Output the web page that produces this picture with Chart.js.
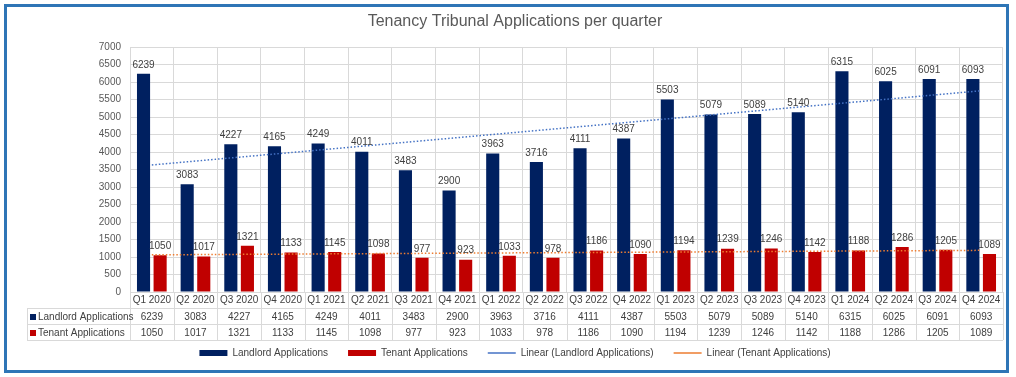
<!DOCTYPE html>
<html>
<head>
<meta charset="utf-8">
<script src="https://cdn.jsdelivr.net/npm/chart.js@4/dist/chart.umd.min.js"></script>
<style>
  html, body { margin: 0; padding: 0; background: #fff; }
  #wrap { width: 1016px; height: 377px; }
</style>
</head>
<body>
<div id="wrap"><canvas id="grafico" width="1016" height="377"></canvas></div>
<script>
const trimestres = [
    "Q1 2020", "Q2 2020", "Q3 2020", "Q4 2020",
    "Q1 2021", "Q2 2021", "Q3 2021", "Q4 2021",
    "Q1 2022", "Q2 2022", "Q3 2022", "Q4 2022",
    "Q1 2023", "Q2 2023", "Q3 2023", "Q4 2023",
    "Q1 2024", "Q2 2024", "Q3 2024", "Q4 2024",
];
const landlord = [6239, 3083, 4227, 4165, 4249, 4011, 3483, 2900, 3963, 3716, 4111, 4387, 5503, 5079, 5089, 5140, 6315, 6025, 6091, 6093];
const tenant = [1050, 1017, 1321, 1133, 1145, 1098, 977, 923, 1033, 978, 1186, 1090, 1194, 1239, 1246, 1142, 1188, 1286, 1205, 1089];

const azul = "#002060";
const rojo = "#c00000";
const gris = "#d9d9d9";
const fuente = "'Liberation Sans', Arial, Helvetica, sans-serif";

// linear trendline (least squares), like Excel's "Linear" trendline
function tendencia(valores) {
    const n = valores.length;
    let sx = 0, sy = 0, sxy = 0, sxx = 0;
    valores.forEach((v, i) => {
        sx += i; sy += v; sxy += i * v; sxx += i * i;
    });
    const m = (n * sxy - sx * sy) / (n * sxx - sx * sx);
    const b = (sy - m * sx) / n;
    return valores.map((v, i) => b + m * i);
}

const filasTabla = [
    { nombre: "Landlord Applications", color: azul, datos: landlord },
    { nombre: "Tenant Applications", color: rojo, datos: tenant },
];

const pluginExtras = {
    id: "extras",
    beforeDraw(chart) {
        const ctx = chart.ctx;
        ctx.save();
        ctx.strokeStyle = "#2e75b6";
        ctx.lineWidth = 3;
        ctx.strokeRect(5.5, 5.5, 1002, 366);
        ctx.restore();
    },
    afterDatasetsDraw(chart) {
        const ctx = chart.ctx;
        ctx.save();
        ctx.font = "10px " + fuente;
        ctx.fillStyle = "#404040";
        ctx.textAlign = "center";
        ctx.textBaseline = "bottom";
        [0, 1].forEach((d) => {
            const meta = chart.getDatasetMeta(d);
            meta.data.forEach((bar, i) => {
                ctx.fillText(chart.data.datasets[d].data[i], bar.x, bar.y - 4);
            });
        });
        ctx.restore();
    },
    afterDraw(chart) {
        const ctx = chart.ctx;
        const area = chart.chartArea;
        const x = chart.scales.x;
        const n = trimestres.length;
        const ancho = (area.right - area.left) / n;
        const filaTop = area.bottom + 16;
        const altoFila = 16;
        const fondo = filaTop + altoFila * filasTabla.length;
        const izq = 27;
        ctx.save();
        ctx.strokeStyle = gris;
        ctx.lineWidth = 1;
        ctx.beginPath();
        for (let i = 0; i <= n; i++) {
            const px = Math.round(area.left + i * ancho) + 0.5;
            ctx.moveTo(px, area.bottom);
            ctx.lineTo(px, fondo);
        }
        for (let r = 0; r <= filasTabla.length; r++) {
            const py = filaTop + r * altoFila + 0.5;
            ctx.moveTo(izq, py);
            ctx.lineTo(area.right, py);
        }
        ctx.moveTo(izq + 0.5, filaTop);
        ctx.lineTo(izq + 0.5, fondo);
        ctx.stroke();

        ctx.font = "10px " + fuente;
        ctx.textBaseline = "middle";
        filasTabla.forEach((fila, r) => {
            const cy = filaTop + r * altoFila + altoFila / 2 + 1;
            ctx.fillStyle = fila.color;
            ctx.fillRect(izq + 3, cy - 3, 6, 6);
            ctx.fillStyle = "#404040";
            ctx.textAlign = "left";
            ctx.fillText(fila.nombre, izq + 11, cy);
            ctx.textAlign = "center";
            fila.datos.forEach((v, i) => {
                ctx.fillText(v, x.getPixelForValue(i), cy);
            });
        });
        ctx.restore();
    },
};

const dataGrafico = {
    labels: trimestres,
    datasets: [
        {
            type: "bar",
            label: "Landlord Applications",
            data: landlord,
            backgroundColor: azul,
            pointStyle: "rect",
            categoryPercentage: 0.76,
            barPercentage: 0.79,
            order: 1,
        },
        {
            type: "bar",
            label: "Tenant Applications",
            data: tenant,
            backgroundColor: rojo,
            pointStyle: "rect",
            categoryPercentage: 0.76,
            barPercentage: 0.79,
            order: 1,
        },
        {
            type: "line",
            label: "Linear (Landlord Applications)",
            data: tendencia(landlord),
            borderColor: "#4472c4",
            backgroundColor: "#4472c4",
            borderWidth: 1.5,
            borderDash: [1.5, 2],
            pointRadius: 0,
            pointStyle: "line",
            fill: false,
            order: 0,
        },
        {
            type: "line",
            label: "Linear (Tenant Applications)",
            data: tendencia(tenant),
            borderColor: "#ed7d31",
            backgroundColor: "#ed7d31",
            borderWidth: 1.5,
            borderDash: [1.5, 2],
            pointRadius: 0,
            pointStyle: "line",
            fill: false,
            order: 0,
        },
    ],
};

const configGrafico = {
    data: dataGrafico,
    options: {
        responsive: false,
        animation: false,
        layout: {
            padding: { left: 27, right: 13, top: 4, bottom: 9 },
        },
        plugins: {
            tooltip: { enabled: false },
            title: {
                display: true,
                text: "Tenancy Tribunal Applications per quarter",
                color: "#595959",
                padding: { top: 8, bottom: 16 },
                font: { family: fuente, size: 16, weight: "normal" },
            },
            legend: {
                position: "bottom",
                labels: {
                    usePointStyle: true,
                    pointStyleWidth: 28,
                    boxHeight: 6,
                    padding: 20,
                    color: "#404040",
                    font: { family: fuente, size: 10 },
                    sort: (a, b) => a.datasetIndex - b.datasetIndex,
                },
            },
        },
        scales: {
            x: {
                grid: {
                    offset: true,
                    color: gris,
                    drawTicks: false,
                },
                border: { color: gris },
                ticks: {
                    maxRotation: 0,
                    autoSkip: false,
                    padding: 2,
                    color: "#404040",
                    font: { family: fuente, size: 10 },
                },
                afterFit: (scale) => {
                    scale.height = 36;
                },
            },
            y: {
                min: 0,
                max: 7000,
                ticks: {
                    stepSize: 500,
                    padding: 9,
                    color: "#595959",
                    font: { family: fuente, size: 10 },
                    callback: (v) => String(v),
                },
                grid: { color: gris, drawTicks: false },
                border: { display: false },
                afterFit: (scale) => {
                    scale.width = 103;
                },
            },
        },
    },
    plugins: [pluginExtras],
};

const grafico = new Chart(document.getElementById("grafico"), configGrafico);
</script>
</body>
</html>
